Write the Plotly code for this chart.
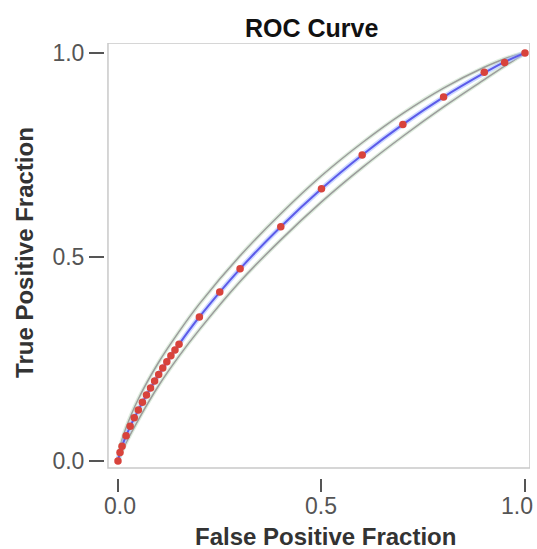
import plotly.graph_objects as go

# Observed operating points (red dots)
pt_fpf = [0.0, 0.005, 0.01, 0.02, 0.03, 0.04, 0.05, 0.06, 0.07, 0.08, 0.09, 0.10,
          0.11, 0.12, 0.13, 0.14, 0.15, 0.20, 0.25, 0.30, 0.40, 0.50, 0.60,
          0.70, 0.80, 0.90, 0.95, 1.0]
pt_tpf = [0.0, 0.021, 0.036, 0.062, 0.085, 0.106, 0.125, 0.144, 0.162, 0.179, 0.196, 0.212,
          0.228, 0.243, 0.258, 0.272, 0.286, 0.353, 0.414, 0.471, 0.574, 0.667, 0.750,
          0.825, 0.892, 0.953, 0.977, 1.0]

# Fitted curve and confidence band
curve_fpf = [0.0, 0.002, 0.005, 0.01, 0.02, 0.05, 0.10, 0.15, 0.20, 0.30, 0.40, 0.50,
             0.60, 0.70, 0.80, 0.90, 0.95, 0.99, 1.0]
curve_tpf = [0.0, 0.009, 0.021, 0.036, 0.062, 0.125, 0.212, 0.286, 0.353, 0.471, 0.574, 0.667,
             0.750, 0.825, 0.892, 0.951, 0.978, 0.996, 1.0]
upper_tpf = [0.0, 0.016, 0.033, 0.052, 0.082, 0.152, 0.242, 0.317, 0.385, 0.503, 0.606, 0.699,
             0.780, 0.852, 0.914, 0.965, 0.986, 0.998, 1.0]
lower_tpf = [0.0, 0.004, 0.012, 0.024, 0.045, 0.101, 0.185, 0.257, 0.322, 0.440, 0.542, 0.635,
             0.719, 0.796, 0.868, 0.935, 0.968, 0.993, 1.0]

tick_vals = [0.0, 0.5, 1.0]
tick_text = ["0.0", "0.5", "1.0"]

FONT = "Liberation Sans, Arial, Helvetica, sans-serif"

fig = go.Figure()
for band in (upper_tpf, lower_tpf):
    fig.add_trace(go.Scatter(x=curve_fpf, y=band, mode="lines",
                             line=dict(color="rgba(200,225,200,0.6)", width=4, shape="spline"),
                             hoverinfo="skip", showlegend=False))
    fig.add_trace(go.Scatter(x=curve_fpf, y=band, mode="lines",
                             line=dict(color="#9c9c9c", width=1.5, shape="spline"),
                             showlegend=False))
fig.add_trace(go.Scatter(x=curve_fpf, y=curve_tpf, mode="lines",
                         line=dict(color="rgba(170,190,255,0.6)", width=5, shape="spline"),
                         hoverinfo="skip", showlegend=False))
fig.add_trace(go.Scatter(x=curve_fpf, y=curve_tpf, mode="lines",
                         line=dict(color="#5b5bea", width=2, shape="spline"),
                         showlegend=False))
fig.add_trace(go.Scatter(x=pt_fpf, y=pt_tpf, mode="markers",
                         marker=dict(color="#d8433c", size=7.5),
                         showlegend=False))

# plot frame (slightly inset from the tick origin on left and bottom)
fig.add_shape(type="rect", xref="x", yref="y", x0=-0.0246, x1=1.0123, y0=-0.0172, y1=1.0245,
              line=dict(color="#c9c9c9", width=1.5), fillcolor="rgba(0,0,0,0)", layer="below")

# x tick labels (last one kept inside the figure)
for i, (v, t) in enumerate(zip(tick_vals, tick_text)):
    fig.add_annotation(x=v, xref="x", y=0, yref="paper", yanchor="top", xanchor="center",
                       yshift=-13, xshift=(-8 if i == len(tick_vals) - 1 else 2 if i == 0 else 0),
                       text=t, showarrow=False,
                       font=dict(family=FONT, size=23, color="#555555"))

# axis titles and chart title
fig.add_annotation(x=0.5, xref="x", xshift=4, y=0, yref="paper", yanchor="middle", yshift=-58,
                   text="<b>False Positive Fraction</b>", showarrow=False,
                   font=dict(family=FONT, size=24, color="#333333"))
fig.add_annotation(x=0, xref="paper", xanchor="center", xshift=-80, y=0.51, yref="y",
                   yanchor="middle", textangle=-90,
                   text="<b>True Positive Fraction</b>", showarrow=False,
                   font=dict(family=FONT, size=24, color="#333333"))
fig.add_annotation(x=0.486, xref="paper", xanchor="center", y=1, yref="paper",
                   yanchor="middle", yshift=15,
                   text="<b>ROC Curve</b>", showarrow=False,
                   font=dict(family=FONT, size=25, color="#111111"))

axis_common = dict(
    showgrid=False, zeroline=False, showline=False, automargin=False,
    ticks="outside", tickwidth=1.5, tickcolor="#555555",
    tickvals=tick_vals, ticktext=tick_text,
    tickfont=dict(family=FONT, size=23, color="#555555"),
)

fig.update_layout(
    width=537, height=549,
    margin=dict(l=105, r=7, t=43, b=71),
    paper_bgcolor="white", plot_bgcolor="white",
    xaxis=dict(range=[-0.0319, 1.0123], ticklen=13, showticklabels=False, **axis_common),
    yaxis=dict(range=[-0.0417, 1.0245], ticklen=15, **axis_common),
)

fig.write_html("out.html", config={"displayModeBar": False},
               post_script="document.body.style.margin='0';document.body.style.overflow='hidden';")
